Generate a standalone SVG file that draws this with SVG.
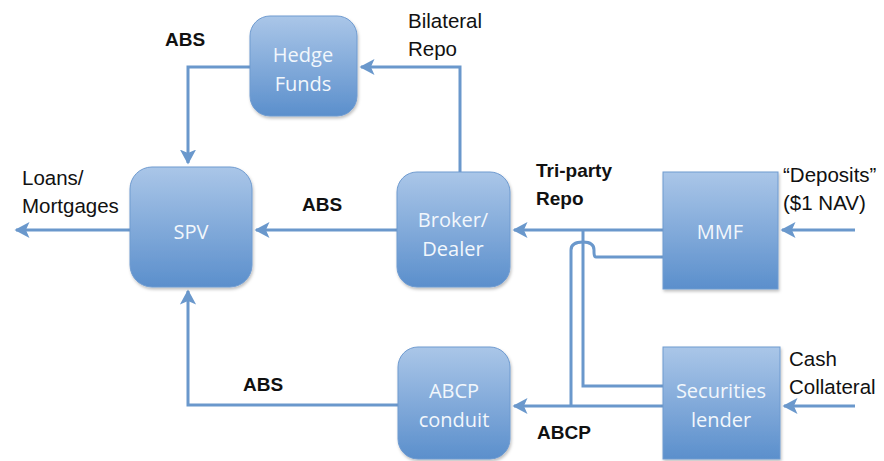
<svg xmlns="http://www.w3.org/2000/svg" width="884" height="461" viewBox="0 0 884 461">
<style>
.node{fill:url(#g);stroke:#6f9bd0;stroke-width:1;filter:url(#sh)}
.nt{font-family:"Open Sans","Liberation Sans",sans-serif;font-size:20px;fill:#f2f7fc;text-anchor:middle}
.lb{font-family:"Liberation Sans",sans-serif;font-size:20.5px;fill:#111}
.bd{font-family:"Liberation Sans",sans-serif;font-size:19px;font-weight:bold;fill:#111}
.ln{fill:none;stroke:#6a98cc;stroke-width:3}
.ar{fill:none;stroke:#6a98cc;stroke-width:3;marker-end:url(#ah)}
</style>
<defs>
<linearGradient id="g" x1="0" y1="0" x2="0" y2="1">
<stop offset="0" stop-color="#aac6e8"/>
<stop offset="1" stop-color="#5b8fcc"/>
</linearGradient>
<filter id="sh" x="-10%" y="-10%" width="130%" height="130%">
<feDropShadow dx="1" dy="2" stdDeviation="1.5" flood-color="#000" flood-opacity="0.25"/>
</filter>
<marker id="ah" markerWidth="6" markerHeight="6" refX="4.5" refY="3" orient="auto" markerUnits="strokeWidth">
<path d="M0,0.3 L5,3 L0,5.7 L1.2,3 Z" fill="#6a98cc"/>
</marker>
</defs>
<rect width="884" height="461" fill="#fff"/>
<g id="connectors">
<path class="ar" d="M250,67 H188 V163"/>
<path class="ar" d="M460,172 V67 H361"/>
<path class="ar" d="M130,230 H16"/>
<path class="ar" d="M397,230 H256"/>
<path class="ar" d="M663,230 H514"/>
<path class="ar" d="M855,230 H782"/>
<path class="ln" d="M583,230 V386 H663"/>
<path class="ln" d="M663,257 H596 Q594,257 594,252 V250 Q594,242 583,242 Q571,242 571,250 V406"/>
<path class="ar" d="M663,406 H514"/>
<path class="ar" d="M855,406 H784"/>
<path class="ar" d="M398,405 H188 V291"/>
</g>
<g id="hedge"><rect class="node" x="250" y="16" width="107" height="100" rx="20"/><text class="nt" x="303" y="62">Hedge</text><text class="nt" x="303" y="91">Funds</text></g>
<g id="spv"><rect class="node" x="130" y="167" width="122" height="120" rx="22"/><text class="nt" x="191" y="239">SPV</text></g>
<g id="broker"><rect class="node" x="397" y="172" width="113" height="115" rx="20"/><text class="nt" x="453" y="227">Broker/</text><text class="nt" x="453" y="256">Dealer</text></g>
<g id="mmf"><rect class="node" x="663" y="172" width="115" height="117"/><text class="nt" x="720" y="239">MMF</text></g>
<g id="abcp"><rect class="node" x="398" y="347" width="112" height="112" rx="20"/><text class="nt" x="454" y="398">ABCP</text><text class="nt" x="454" y="427">conduit</text></g>
<g id="sec"><rect class="node" x="663" y="347" width="117" height="112"/><text class="nt" x="721" y="398">Securities</text><text class="nt" x="721" y="427">lender</text></g>
<g id="labels">
<text class="bd" x="165" y="46">ABS</text>
<text class="lb" x="408" y="28">Bilateral</text>
<text class="lb" x="408" y="56">Repo</text>
<text class="lb" x="22" y="185">Loans/</text>
<text class="lb" x="22" y="213">Mortgages</text>
<text class="bd" x="302" y="211">ABS</text>
<text class="bd" x="536" y="177">Tri-party</text>
<text class="bd" x="536" y="205">Repo</text>
<text class="lb" x="783" y="182">“Deposits”</text>
<text class="lb" x="783" y="210">($1 NAV)</text>
<text class="lb" x="789" y="366">Cash</text>
<text class="lb" x="789" y="394">Collateral</text>
<text class="bd" x="243" y="391">ABS</text>
<text class="bd" x="537" y="439">ABCP</text>
</g>
</svg>
